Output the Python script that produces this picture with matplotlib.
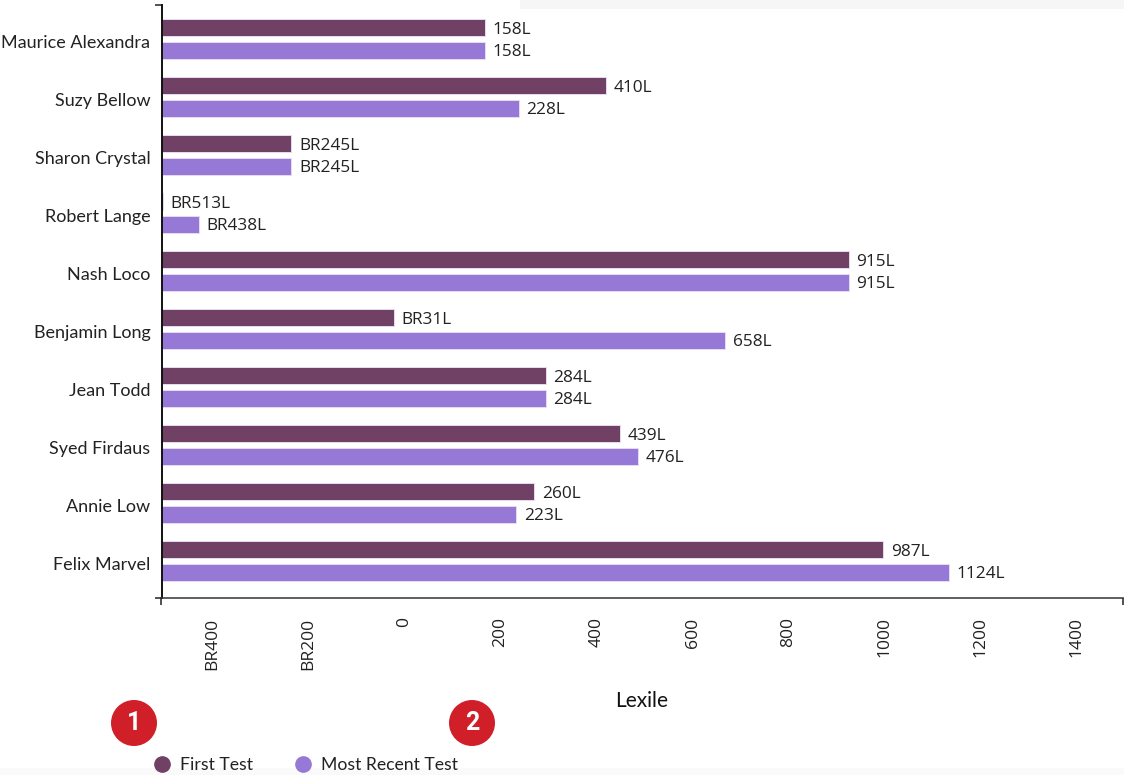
import matplotlib
matplotlib.use('Agg')
import matplotlib.pyplot as plt
from matplotlib.lines import Line2D
from matplotlib.patches import Circle, Rectangle
from matplotlib.transforms import ScaledTranslation

students = ['Maurice Alexandra', 'Suzy Bellow', 'Sharon Crystal', 'Robert Lange', 'Nash Loco',
            'Benjamin Long', 'Jean Todd', 'Syed Firdaus', 'Annie Low', 'Felix Marvel']
first_test = [158, 410, -245, -513, 915, -31, 284, 439, 260, 987]
recent_test = [158, 228, -245, -438, 915, 658, 284, 476, 223, 1124]
x_ticks = [-400, -200, 0, 200, 400, 600, 800, 1000, 1200, 1400]

plum = '#704065'
purple = '#9678d6'
text_col = '#222222'
tick_font = 'Open Sans'
main_font = 'Lato'

W, H = 1124, 775
xmin, xmax = -515.5, 1485.5


def lex(v):
    return f'BR{abs(v)}L' if v < 0 else f'{v}L'


def tick_lab(v):
    return f'BR{abs(v)}' if v < 0 else str(v)


fig = plt.figure(figsize=(W / 100, H / 100), dpi=100)

# faint page strips behind the chart
fig.add_artist(Rectangle((520 / W, 1 - 9 / H), 604 / W, 9 / H, transform=fig.transFigure, color='#f6f6f6', lw=0))
fig.add_artist(Rectangle((0, 0), 1, 7 / H, transform=fig.transFigure, color='#fafafa', lw=0))

ax = fig.add_axes([161.5 / W, 1 - 598 / H, (1123 - 161.5) / W, (598 - 5) / H])
ax.patch.set_alpha(0)
ax.set_xlim(xmin, xmax)
ax.set_ylim(9.638, -0.586)

offs = 0.194
bar_h = 0.29
for i, name in enumerate(students):
    for v, col, dy in ((first_test[i], plum, -offs), (recent_test[i], purple, offs)):
        ax.barh(i + dy, v - xmin, left=xmin, height=bar_h, color=col, edgecolor='#e6dcf2', linewidth=0.7)
        ax.annotate(lex(v), (v, i + dy), xytext=(5.4, -1.6), textcoords='offset points', va='center', ha='left',
                    fontsize=12.4, family=tick_font, color=text_col)

for s in ('top', 'right'):
    ax.spines[s].set_visible(False)
ax.spines['left'].set_linewidth(1.4)
ax.spines['left'].set_color('#111111')
ax.spines['bottom'].set_linewidth(1.1)
ax.spines['bottom'].set_color('#333333')

ax.set_yticks(range(len(students)))
ax.set_yticklabels(students, fontsize=13, family=main_font, color=text_col)
ax.tick_params(axis='y', which='major', length=0, pad=8)
for lab in ax.get_yticklabels():
    lab.set_transform(lab.get_transform() + ScaledTranslation(0, -1.5 / 72, fig.dpi_scale_trans))

ax.set_xticks(x_ticks)
ax.set_xticklabels([tick_lab(v) for v in x_ticks], rotation=90, fontsize=12.6, family=tick_font, color=text_col)
ax.tick_params(axis='x', which='major', length=0, pad=14)
for lab in ax.get_xticklabels():
    lab.set_transform(lab.get_transform() + ScaledTranslation(-3.6 / 72, 0, fig.dpi_scale_trans))

# only the ends of the axes carry tick marks
ax.set_xticks([xmin, xmax], minor=True)
ax.set_yticks([-0.586, 9.638], minor=True)
ax.tick_params(axis='both', which='minor', length=5, width=1.1, color='#222222')

fig.text(642 / W, 1 - 701 / H, 'Lexile', ha='center', va='center', fontsize=15, family=main_font, color='#111111')

handles = [Line2D([], [], marker='o', ls='', ms=11, color=plum, label='First Test'),
           Line2D([], [], marker='o', ls='', ms=11, color=purple, label='Most Recent Test')]
fig.legend(handles=handles, loc='center left', bbox_to_anchor=(144 / W, 1 - 765 / H), ncols=2, frameon=False,
           prop={'family': main_font, 'size': 12.7}, labelcolor=text_col, handletextpad=0.05, columnspacing=1.8,
           borderpad=0, borderaxespad=0)

# numbered badges on top of the chart
for num, cx in (('1', 134), ('2', 472)):
    fig.add_artist(Circle((cx, H - 723), 23, transform=None, color='#d01f28', lw=0))
    fig.text(cx / W, 1 - 723 / H, num, ha='center', va='center', color='white', fontsize=18, fontweight='bold',
             family='Roboto')

fig.savefig('out.png', dpi=100)
